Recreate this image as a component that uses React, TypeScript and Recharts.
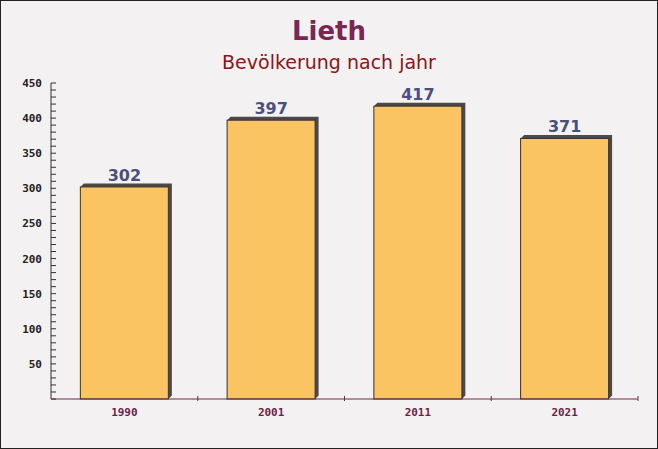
import React from "react";
import { BarChart, Bar, XAxis, YAxis, LabelList } from "recharts";

const years = ["1990", "2001", "2011", "2021"];
const population = [302, 397, 417, 371];
const yTicks = [0, 10, 20, 30, 40, 50, 60, 70, 80, 90, 100, 110, 120, 130, 140, 150, 160, 170, 180, 190, 200, 210, 220, 230, 240, 250, 260, 270, 280, 290, 300, 310, 320, 330, 340, 350, 360, 370, 380, 390, 400, 410, 420, 430, 440, 450];

const data = years.map((y, i) => ({ year: y, value: population[i] }));

const W = 658;
const H = 449;
const PLOT_W = 587;
const BAND = PLOT_W / years.length;

const Bar3D = (props: any) => {
  const { x, y, width, height } = props;
  const d = 3.5;
  return (
    <g>
      <path
        d={`M${x},${y} L${x + d},${y - d} L${x + width + d},${y - d} L${x + width + d},${y + height - d} L${x + width},${y + height} L${x + width},${y} Z`}
        fill="#4b4848"
      />
      <rect x={x} y={y} width={width} height={height} fill="#fbc462" stroke="#3a3030" strokeWidth={1} />
    </g>
  );
};

const YTick = (props: any) => {
  const { x, y, payload } = props;
  const v = payload.value;
  const ax = x + 6;
  return (
    <g>
      <line x1={ax} y1={y} x2={ax + 5} y2={y} stroke="#333" strokeWidth={1} />
      {v % 50 === 0 && v > 0 && (
        <text x={x - 3} y={y + 4} textAnchor="end" fontFamily="'DejaVu Sans Mono', monospace" fontWeight="bold" fontSize={11} fill="#222">
          {v}
        </text>
      )}
    </g>
  );
};

const XTick = (props: any) => {
  const { x, y, payload } = props;
  const bx = x + BAND / 2;
  return (
    <g>
      <line x1={bx} y1={y - 8} x2={bx} y2={y - 3} stroke="#6b2a4a" strokeWidth={1} />
      <text x={x} y={y + 12} textAnchor="middle" fontFamily="'DejaVu Sans Mono', monospace" fontWeight="bold" fontSize={11} fill="#6b1f48">
        {payload.value}
      </text>
    </g>
  );
};

export default function App() {
  return (
    <div
      style={{
        position: "fixed",
        left: 0,
        top: 0,
        width: W,
        height: H,
        boxSizing: "border-box",
        border: "1px solid #222",
        background: "#f4f1f2",
        fontFamily: "'DejaVu Sans', sans-serif",
      }}
    >
      <div style={{ position: "absolute", top: 15, width: "100%", textAlign: "center", fontSize: 26, fontWeight: "bold", color: "#7a2852" }}>
        Lieth
      </div>
      <div style={{ position: "absolute", top: 50, width: "100%", textAlign: "center", fontSize: 19, color: "#8b1518" }}>
        Bevölkerung nach jahr
      </div>
      <div style={{ position: "absolute", left: -1, top: -1 }}>
        <BarChart width={W} height={H} data={data} margin={{ top: 83, right: 20, bottom: 20, left: 11 }} barCategoryGap="20%">
          <XAxis
            dataKey="year"
            height={30}
            tickLine={false}
            tickSize={3}
            axisLine={{ stroke: "#6b2a4a" }}
            tick={<XTick />}
            interval={0}
          />
          <YAxis
            type="number"
            domain={[0, 450]}
            ticks={yTicks}
            interval={0}
            width={40}
            tickLine={false}
            tickSize={0}
            tickMargin={6}
            axisLine={{ stroke: "#333" }}
            tick={<YTick />}
          />
          <Bar dataKey="value" shape={<Bar3D />} isAnimationActive={false}>
            <LabelList dataKey="value" position="top" offset={6} fill="#4b4f7d" fontSize={16} fontWeight="bold" fontFamily="'DejaVu Sans', sans-serif" />
          </Bar>
        </BarChart>
      </div>
    </div>
  );
}
